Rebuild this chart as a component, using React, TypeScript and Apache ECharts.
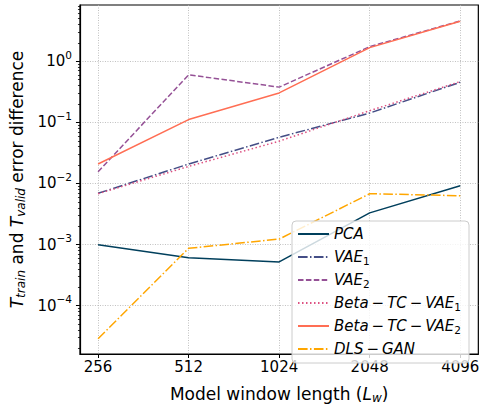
import React, { useEffect, useRef } from 'react';
import * as echarts from 'echarts';

const windowLengths = [256, 512, 1024, 2048, 4096];
const pca = [0.00099, 0.00061, 0.00052, 0.0033, 0.0092];
const vae1 = [0.0069, 0.0208, 0.057, 0.142, 0.453];
const vae2 = [0.0155, 0.6, 0.377, 1.73, 4.57];
const betaTcVae1 = [0.0068, 0.019, 0.0492, 0.155, 0.464];
const betaTcVae2 = [0.0208, 0.111, 0.303, 1.67, 4.52];
const dlsGan = [0.0000288, 0.00087, 0.00123, 0.0068, 0.0063];
const yTicks = [1e-4, 1e-3, 1e-2, 1e-1, 1e0];
const minorMultipliers = [2, 3, 4, 5, 6, 7, 8, 9];
const minorDecades = [1e-5, 1e-4, 1e-3, 1e-2, 1e-1, 1e0];

const FONT = 'DejaVu Sans';
const yMin = Math.pow(10, -4.79);
const yMax = Math.pow(10, 0.92);
const xMin = 256 / Math.pow(2, 0.2);
const xMax = 4096 * Math.pow(2, 0.2);

const minorTicks: number[] = [];
minorDecades.forEach((d) => minorMultipliers.forEach((m) => {
  const v = m * d;
  if (v > yMin && v < yMax) minorTicks.push(v);
}));

const M = '\u2009\u2212\u2009';
const legendLabels: Record<string, string> = {
  'PCA': '{i|PCA}',
  'VAE1': '{i|VAE}{s|1}',
  'VAE2': '{i|VAE}{s|2}',
  'Beta-TC-VAE1': '{i|Beta' + M + 'TC' + M + 'VAE}{s|1}',
  'Beta-TC-VAE2': '{i|Beta' + M + 'TC' + M + 'VAE}{s|2}',
  'DLS-GAN': '{i|DLS' + M + 'GAN}',
};

const mk = (name: string, data: number[], color: string, type: any) => ({
  name,
  type: 'line',
  data: windowLengths.map((x, i) => [x, data[i]]),
  symbol: 'none',
  lineStyle: { color, width: 1.5, type },
  itemStyle: { color },
});

export default function App() {
  const ref = useRef<HTMLDivElement>(null);
  useEffect(() => {
    const chart = echarts.init(ref.current!, null, { renderer: 'svg' });
    const gridLine = { show: true, lineStyle: { color: '#b0b0b0', width: 0.8, type: [1, 1.5] } };
    chart.setOption({
      animation: false,
      backgroundColor: '#ffffff',
      grid: { left: 73, top: 5, width: 410, height: 360, show: true, borderColor: '#000', borderWidth: 1.2 },
      legend: {
        orient: 'vertical',
        left: 292,
        top: 221,
        padding: [4, 8, 5, 5],
        itemGap: 5,
        itemWidth: 31,
        itemHeight: 14,
        itemTextGap: 11,
        itemStyle: { opacity: 0 },
        backgroundColor: 'rgba(255,255,255,0.8)',
        borderColor: '#cccccc',
        borderWidth: 1,
        borderRadius: 4,
        data: ['PCA', 'VAE1', 'VAE2', 'Beta-TC-VAE1', 'Beta-TC-VAE2', 'DLS-GAN'],
        formatter: (n: string) => legendLabels[n] || n,
        textStyle: {
          fontFamily: FONT,
          color: '#000',
          lineHeight: 18,
          rich: {
            i: { fontFamily: FONT, fontSize: 15, fontStyle: 'italic', lineHeight: 18, color: '#000' },
            s: { fontFamily: FONT, fontSize: 10.5, lineHeight: 8, verticalAlign: 'bottom', color: '#000' },
          },
        },
      },
      xAxis: {
        type: 'log',
        logBase: 2,
        min: xMin,
        max: xMax,
        axisLine: { show: true, lineStyle: { color: '#000', width: 1.2 } },
        axisTick: { show: true, length: 4, customValues: windowLengths, lineStyle: { color: '#000', width: 1 } },
        axisLabel: {
          customValues: windowLengths,
          fontFamily: FONT, fontSize: 15, color: '#000', margin: 5,
          formatter: (v: number) => String(Math.round(v)),
        },
        splitLine: gridLine,
        minorTick: { show: false },
        name: '{n|Model window length (}{i|L}{s|w}{n|)}',
        nameLocation: 'middle',
        nameGap: 30,
        nameTextStyle: {
          fontFamily: FONT, fontSize: 17, color: '#000',
          rich: {
            n: { fontFamily: FONT, fontSize: 17, lineHeight: 20, color: '#000' },
            i: { fontFamily: FONT, fontSize: 17, fontStyle: 'italic', lineHeight: 20, color: '#000' },
            s: { fontFamily: FONT, fontSize: 12, fontStyle: 'italic', lineHeight: 12, verticalAlign: 'bottom', color: '#000' },
          },
        },
      },
      yAxis: [
        {
          type: 'log',
          logBase: 10,
          min: yMin,
          max: yMax,
          axisLine: { show: true, lineStyle: { color: '#000', width: 1.2 } },
          axisTick: { show: true, length: 4, customValues: yTicks, lineStyle: { color: '#000', width: 1 } },
          axisLabel: {
            customValues: yTicks,
            margin: 8,
            formatter: (v: number) => {
              const e = Math.round(Math.log10(v));
              return '{b|10}{e|' + (e < 0 ? '\u2212' + -e : String(e)) + '}';
            },
            rich: {
              b: { fontFamily: FONT, fontSize: 15, lineHeight: 24, color: '#000' },
              e: { fontFamily: FONT, fontSize: 10.5, lineHeight: 10, verticalAlign: 'top', color: '#000' },
            },
          },
          splitLine: gridLine,
          name: '{i|T}{s|train}{n| and }{i|T}{s|valid}{n| error difference}',
          nameLocation: 'middle',
          nameRotate: 90,
          nameGap: 50,
          nameTextStyle: {
            fontFamily: FONT, fontSize: 17, color: '#000',
            rich: {
              n: { fontFamily: FONT, fontSize: 17, lineHeight: 20, color: '#000' },
              i: { fontFamily: FONT, fontSize: 17, fontStyle: 'italic', lineHeight: 20, color: '#000' },
              s: { fontFamily: FONT, fontSize: 12, fontStyle: 'italic', lineHeight: 12, verticalAlign: 'bottom', color: '#000' },
            },
          },
        },
        {
          type: 'log',
          logBase: 10,
          min: yMin,
          max: yMax,
          position: 'left',
          axisLine: { show: false },
          axisTick: { show: true, length: 2, customValues: minorTicks, lineStyle: { color: '#000', width: 0.8 } },
          axisLabel: { show: false },
          splitLine: { show: false },
        },
      ],
      series: [
        mk('PCA', pca, '#003f5c', 'solid'),
        mk('VAE1', vae1, '#444e86', [9.6, 2.4, 1.5, 2.4]),
        mk('VAE2', vae2, '#955196', [5.5, 2.4]),
        mk('Beta-TC-VAE1', betaTcVae1, '#dd5182', [1.5, 2.5]),
        mk('Beta-TC-VAE2', betaTcVae2, '#ff6e54', 'solid'),
        mk('DLS-GAN', dlsGan, '#ffa600', [9.6, 2.4, 1.5, 2.4]),
      ],
    });
    return () => chart.dispose();
  }, []);
  return <div ref={ref} style={{ position: 'fixed', left: 0, top: 0, width: 482, height: 409 }} />;
}
